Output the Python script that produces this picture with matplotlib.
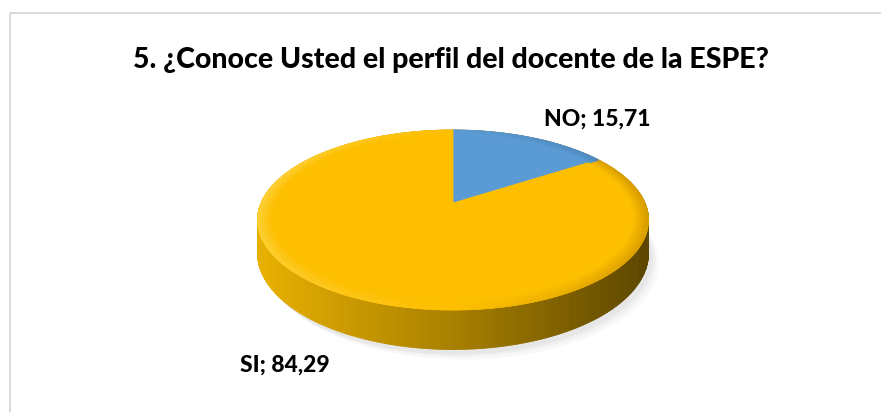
"""Encuesta ESPE, pregunta 5: pastel 3D estilo Excel (NO / SI)."""

import matplotlib
import numpy as np

matplotlib.use("Agg")
import matplotlib.pyplot as plt  # noqa: E402
from matplotlib.collections import PolyCollection  # noqa: E402
from matplotlib.colors import to_rgb  # noqa: E402
from matplotlib.patches import Polygon, Rectangle  # noqa: E402

TITLE = "5. ¿Conoce Usted el perfil del docente de la ESPE?"
labels = ["NO", "SI"]
values = [15.71, 84.29]
colors = ["#5b9bd5", "#fdbf00"]

# proyección del disco (pixeles)
CX, CY, R, A, K, D = 453, 203, 192, 86.8, 0.189, 32


def proj(theta, r=1.0, z=0.0):
    u, v = r * np.cos(theta), r * np.sin(theta)
    s = 1.0 / (1.0 + K * v)
    return CX + R * u * s, CY - A * v * s + D * z * s


def mix(c1, c2, t):
    a, b = np.array(to_rgb(c1)), np.array(to_rgb(c2))
    return tuple(a + (b - a) * t)


def rim_color(x):
    t = np.clip((x - 261) / (645 - 261), 0, 1)
    if t < 0.5:
        return mix("#e8b000", "#a98000", t / 0.5)
    return mix("#a98000", "#5e4700", (t - 0.5) / 0.5)


fig = plt.figure(figsize=(8.81, 4.12), dpi=100)
ax = fig.add_axes([0, 0, 1, 1])
ax.set_xlim(0, 881)
ax.set_ylim(412, 0)
ax.axis("off")

ax.add_patch(Rectangle((9.5, 12.5), 900, 500, fill=False, ec="#d9d9d9", lw=1.4))

# sombra suave
th = np.linspace(0, 2 * np.pi, 200)
for dx, dy, a in [(10, 10, 0.05), (7, 7, 0.06), (4, 5, 0.08)]:
    x, y = proj(th, 1.0, 1.0)
    ax.fill(x + dx, y + dy, color="#808080", alpha=a, lw=0, zorder=1)

# lateral con degradado
n = 360
ths = np.linspace(0, 2 * np.pi, n + 1)
quads, qcols = [], []
for a0, a1 in zip(ths[:-1], ths[1:]):
    x0, y0 = proj(a0)
    x1, y1 = proj(a1)
    x2, y2 = proj(a1, 1, 1)
    x3, y3 = proj(a0, 1, 1)
    quads.append([(x0, y0), (x1, y1), (x2, y2), (x3, y3)])
    qcols.append(rim_color((x0 + x1) / 2))
ax.add_collection(PolyCollection(quads, facecolors=qcols, edgecolors=qcols,
                                 lw=0.6, zorder=2))

# cara superior
fracs = np.array(values) / sum(values)
start = np.pi / 2
bounds = []
for f, c in zip(fracs, colors):
    end = start - 2 * np.pi * f
    t = np.linspace(start, end, max(int(abs(end - start) * 60), 4))
    x, y = proj(t)
    pts = [(CX, CY)] + list(zip(x, y))
    ax.add_patch(Polygon(pts, closed=True, fc=c, ec=c, lw=0.5, zorder=3))
    bounds.append((start, end, c))
    start = end

# bisel del borde
rings = np.linspace(0.93, 1.0, 8)
bq, bc = [], []
for a0, a1 in zip(ths[:-1], ths[1:]):
    am = (a0 + a1) / 2
    base = colors[1]
    for s0, e0, c in bounds:
        lo, hi = min(s0, e0), max(s0, e0)
        if lo <= am <= hi or lo <= am - 2 * np.pi <= hi:
            base = c
    for j, (r0, r1) in enumerate(zip(rings[:-1], rings[1:])):
        w = (j + 1) / len(rings)
        cs = np.cos(am)
        if cs < 0:
            col = mix(base, "#ffe066" if base != colors[0] else "#9cc3e8", -cs * w * 0.6)
        else:
            col = mix(base, "#b07a00" if base != colors[0] else "#3d6f9e", cs * w * 0.55)
        p = [proj(a0, r0), proj(a1, r0), proj(a1, r1), proj(a0, r1)]
        bq.append(p)
        bc.append(col)
ax.add_collection(PolyCollection(bq, facecolors=bc, edgecolors=bc, lw=0.4, zorder=4))

font = dict(family=["Lato", "DejaVu Sans"], weight=900, color="black")
ax.text(451, 60, TITLE, ha="center", va="center", fontsize=20.5, **font)
ax.text(597, 119, f"{labels[0]}; {values[0]:.2f}".replace(".", ","),
        ha="center", va="center", fontsize=16.5, **font)
ax.text(285, 365, f"{labels[1]}; {values[1]:.2f}".replace(".", ","),
        ha="center", va="center", fontsize=16.5, **font)

fig.savefig("out.png", dpi=100, facecolor="white")
